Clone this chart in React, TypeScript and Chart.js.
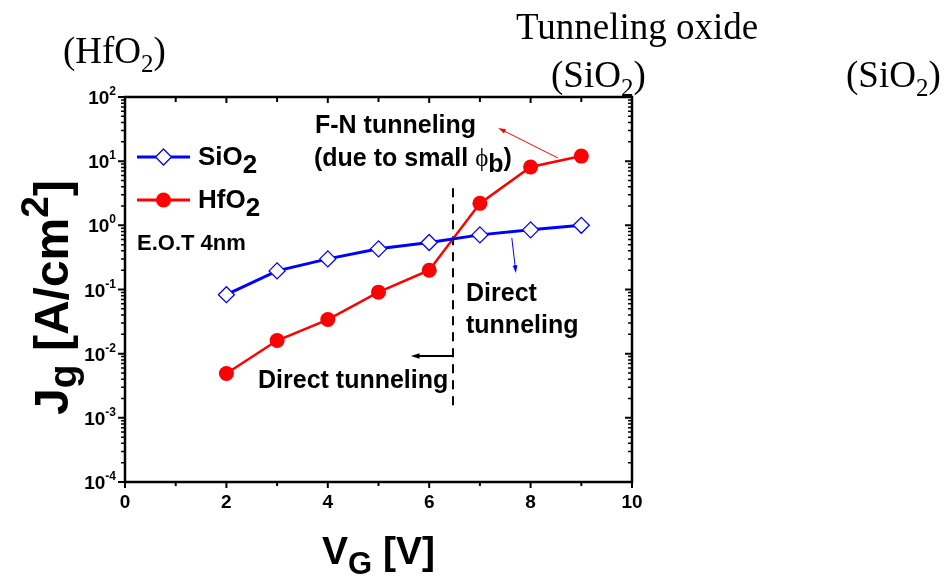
import React, { useEffect, useRef } from "react";
import { Chart, registerables } from "chart.js";

Chart.register(...registerables);

// ---------- data ----------
const VG = [2, 3, 4, 5, 6, 7, 8, 9];
const SIO2_JG = [0.083, 0.195, 0.3, 0.43, 0.54, 0.71, 0.85, 1.0];
const HFO2_JG = [0.0049, 0.016, 0.034, 0.091, 0.2, 2.2, 8.1, 12];
const BOUNDARY_V = [6.47, 6.47];
const BOUNDARY_J = [3.8, 0.00123];
const X_MAJOR = [0, 2, 4, 6, 8, 10];
const X_MINOR = [1, 3, 5, 7, 9];
const Y_DECADES = [-4, -3, -2, -1, 0, 1, 2];
// annotation arrows in data coords [x0, y0, x1, y1] (tail -> head)
const ARROW_RED = [8.54, 11.2, 7.36, 32.9];
const ARROW_BLUE = [7.63, 0.635, 7.71, 0.181];
const ARROW_BLACK = [6.47, 0.0092, 5.64, 0.0092];

const SANS = '"Liberation Sans", Arial, sans-serif';
const SERIF = '"Liberation Serif", "Times New Roman", serif';
const BLUE = "#0000ff";
const RED = "#ff0000";

type Part = { t: string; size: number; dy?: number; bold?: boolean; family?: string };

function richWidth(ctx: CanvasRenderingContext2D, parts: Part[]) {
  let w = 0;
  for (const p of parts) {
    ctx.font = `${p.bold === false ? "" : "bold "}${p.size}px ${p.family || SANS}`;
    w += ctx.measureText(p.t).width;
  }
  return w;
}

function drawRich(
  ctx: CanvasRenderingContext2D,
  parts: Part[],
  x: number,
  y: number,
  align: "left" | "center" | "right" = "left"
) {
  const w = richWidth(ctx, parts);
  let cx = align === "left" ? x : align === "center" ? x - w / 2 : x - w;
  ctx.textAlign = "left";
  ctx.textBaseline = "alphabetic";
  for (const p of parts) {
    ctx.font = `${p.bold === false ? "" : "bold "}${p.size}px ${p.family || SANS}`;
    ctx.fillText(p.t, cx, y + (p.dy || 0));
    cx += ctx.measureText(p.t).width;
  }
}

function arrow(
  ctx: CanvasRenderingContext2D,
  x0: number,
  y0: number,
  x1: number,
  y1: number,
  color: string,
  lw: number,
  head: number
) {
  ctx.save();
  ctx.strokeStyle = color;
  ctx.fillStyle = color;
  ctx.lineWidth = lw;
  const a = Math.atan2(y1 - y0, x1 - x0);
  ctx.beginPath();
  ctx.moveTo(x0, y0);
  ctx.lineTo(x1 - Math.cos(a) * head * 0.8, y1 - Math.sin(a) * head * 0.8);
  ctx.stroke();
  ctx.beginPath();
  ctx.moveTo(x1, y1);
  ctx.lineTo(x1 - Math.cos(a - 0.3) * head, y1 - Math.sin(a - 0.3) * head);
  ctx.lineTo(x1 - Math.cos(a + 0.3) * head, y1 - Math.sin(a + 0.3) * head);
  ctx.closePath();
  ctx.fill();
  ctx.restore();
}

const decorPlugin = {
  id: "decor",
  afterDraw(chart: any) {
    const ctx: CanvasRenderingContext2D = chart.ctx;
    const xs = chart.scales.x;
    const ys = chart.scales.y;
    const { left, right, top, bottom } = chart.chartArea;
    const px = (v: number) => xs.getPixelForValue(v);
    const py = (v: number) => ys.getPixelForValue(v);
    ctx.save();

    // frame
    ctx.strokeStyle = "#000";
    ctx.lineWidth = 2.5;
    ctx.strokeRect(left, top, right - left, bottom - top);

    // y ticks
    ctx.lineWidth = 2;
    for (const d of Y_DECADES) {
      const y = py(Math.pow(10, d));
      ctx.beginPath();
      ctx.moveTo(left - 7, y);
      ctx.lineTo(left, y);
      ctx.moveTo(right, y);
      ctx.lineTo(right - 7, y);
      ctx.stroke();
      if (d < 2) {
        for (let m = 2; m <= 9; m++) {
          const ym = py(m * Math.pow(10, d));
          ctx.beginPath();
          ctx.lineWidth = 1.5;
          ctx.moveTo(left - 4, ym);
          ctx.lineTo(left, ym);
          ctx.moveTo(right, ym);
          ctx.lineTo(right - 4, ym);
          ctx.stroke();
          ctx.lineWidth = 2;
        }
      }
      ctx.fillStyle = "#000";
      drawRich(
        ctx,
        [
          { t: "10", size: 19 },
          { t: String(d), size: 12, dy: -9 },
        ],
        left - 9,
        y + 7,
        "right"
      );
    }

    // x ticks
    for (const v of X_MAJOR) {
      const x = px(v);
      ctx.lineWidth = 2;
      ctx.beginPath();
      ctx.moveTo(x, bottom);
      ctx.lineTo(x, bottom + 6);
      ctx.moveTo(x, top);
      ctx.lineTo(x, top + 6);
      ctx.stroke();
      ctx.fillStyle = "#000";
      drawRich(ctx, [{ t: String(v), size: 19 }], x, bottom + 26, "center");
    }
    for (const v of X_MINOR) {
      const x = px(v);
      ctx.lineWidth = 2;
      ctx.beginPath();
      ctx.moveTo(x, bottom);
      ctx.lineTo(x, bottom + 4);
      ctx.moveTo(x, top);
      ctx.lineTo(x, top + 5);
      ctx.stroke();
    }

    // axis titles
    ctx.fillStyle = "#000";
    drawRich(
      ctx,
      [
        { t: "V", size: 39 },
        { t: "G", size: 31, dy: 10 },
        { t: " [V]", size: 39 },
      ],
      (left + right) / 2,
      bottom + 82,
      "center"
    );
    ctx.save();
    ctx.translate(68, (top + bottom) / 2 + 8);
    ctx.rotate(-Math.PI / 2);
    drawRich(
      ctx,
      [
        { t: "J", size: 48 },
        { t: "g", size: 39, dy: 8 },
        { t: " [A/cm", size: 48 },
        { t: "2", size: 39, dy: -20 },
        { t: "]", size: 48 },
      ],
      0,
      0,
      "center"
    );
    ctx.restore();

    // legend
    const legend = [
      { y: 157, color: BLUE, label: "SiO", style: "diamond" },
      { y: 200, color: RED, label: "HfO", style: "circle" },
    ];
    for (const l of legend) {
      ctx.strokeStyle = l.color;
      ctx.lineWidth = 3;
      ctx.beginPath();
      ctx.moveTo(137, l.y);
      ctx.lineTo(190, l.y);
      ctx.stroke();
      const mx = 163.5;
      if (l.style === "diamond") {
        ctx.fillStyle = "#fff";
        ctx.lineWidth = 1.3;
        ctx.beginPath();
        ctx.moveTo(mx, l.y - 8);
        ctx.lineTo(mx + 8, l.y);
        ctx.lineTo(mx, l.y + 8);
        ctx.lineTo(mx - 8, l.y);
        ctx.closePath();
        ctx.fill();
        ctx.stroke();
      } else {
        ctx.fillStyle = l.color;
        ctx.beginPath();
        ctx.arc(mx, l.y, 7.5, 0, Math.PI * 2);
        ctx.fill();
      }
      ctx.fillStyle = "#000";
      drawRich(
        ctx,
        [
          { t: l.label, size: 26 },
          { t: "2", size: 26, dy: 8 },
        ],
        198,
        l.y + 8
      );
    }
    drawRich(ctx, [{ t: "E.O.T 4nm", size: 22 }], 137, 250);

    // annotations text
    ctx.fillStyle = "#000";
    drawRich(ctx, [{ t: "F-N tunneling", size: 25 }], 315, 133);
    drawRich(
      ctx,
      [
        { t: "(due to small ", size: 25 },
        { t: "\u03d5", size: 25, bold: false, family: SERIF },
        { t: "b", size: 25, dy: 6 },
        { t: ")", size: 25 },
      ],
      314,
      166
    );
    drawRich(ctx, [{ t: "Direct", size: 25 }], 466, 301);
    drawRich(ctx, [{ t: "tunneling", size: 25 }], 466, 333);
    drawRich(ctx, [{ t: "Direct tunneling", size: 25 }], 258, 388);

    // arrows
    arrow(ctx, px(ARROW_RED[0]), py(ARROW_RED[1]), px(ARROW_RED[2]), py(ARROW_RED[3]), RED, 1, 8);
    arrow(ctx, px(ARROW_BLUE[0]), py(ARROW_BLUE[1]), px(ARROW_BLUE[2]), py(ARROW_BLUE[3]), BLUE, 1, 8);
    arrow(ctx, px(ARROW_BLACK[0]), py(ARROW_BLACK[1]), px(ARROW_BLACK[2]), py(ARROW_BLACK[3]), "#000", 1.8, 9);

    // top serif labels
    ctx.fillStyle = "#000";
    drawRich(
      ctx,
      [
        { t: "(HfO", size: 37, bold: false, family: SERIF },
        { t: "2", size: 25, dy: 9, bold: false, family: SERIF },
        { t: ")", size: 37, bold: false, family: SERIF },
      ],
      63,
      63
    );
    drawRich(ctx, [{ t: "Tunneling oxide", size: 37, bold: false, family: SERIF }], 516, 39);
    const sio: Part[] = [
      { t: "(SiO", size: 37, bold: false, family: SERIF },
      { t: "2", size: 25, dy: 9, bold: false, family: SERIF },
      { t: ")", size: 37, bold: false, family: SERIF },
    ];
    drawRich(ctx, sio, 551, 87);
    drawRich(ctx, sio, 846, 87);

    ctx.restore();
  },
};

export default function App() {
  const ref = useRef<HTMLCanvasElement | null>(null);
  useEffect(() => {
    if (!ref.current) return;
    const chart = new Chart(ref.current, {
      type: "line",
      data: {
        datasets: [
          {
            label: "SiO2",
            data: VG.map((v, i) => ({ x: v, y: SIO2_JG[i] })),
            borderColor: BLUE,
            borderWidth: 3,
            pointStyle: "rectRot",
            pointRadius: 8,
            pointBorderWidth: 1.3,
            pointBackgroundColor: "#fff",
            pointBorderColor: BLUE,
          },
          {
            label: "HfO2",
            data: VG.map((v, i) => ({ x: v, y: HFO2_JG[i] })),
            borderColor: RED,
            borderWidth: 2.5,
            pointStyle: "circle",
            pointRadius: 7.5,
            pointBorderWidth: 0,
            pointBackgroundColor: RED,
            pointBorderColor: RED,
          },
          {
            label: "boundary",
            data: BOUNDARY_V.map((v, i) => ({ x: v, y: BOUNDARY_J[i] })),
            borderColor: "#000",
            borderWidth: 2,
            borderDash: [9, 7],
            pointRadius: 0,
          },
        ],
      },
      options: {
        animation: false,
        responsive: false,
        devicePixelRatio: 1,
        layout: { padding: { left: 125, right: 320, top: 97, bottom: 98 } },
        plugins: { legend: { display: false }, tooltip: { enabled: false } },
        scales: {
          x: { type: "linear", min: 0, max: 10, display: false },
          y: { type: "logarithmic", min: 1e-4, max: 100, display: false },
        },
      },
      plugins: [decorPlugin],
    });
    return () => chart.destroy();
  }, []);
  return (
    <div style={{ position: "fixed", left: 0, top: 0, width: 952, height: 580, background: "#fff" }}>
      <canvas ref={ref} width={952} height={580} />
    </div>
  );
}
